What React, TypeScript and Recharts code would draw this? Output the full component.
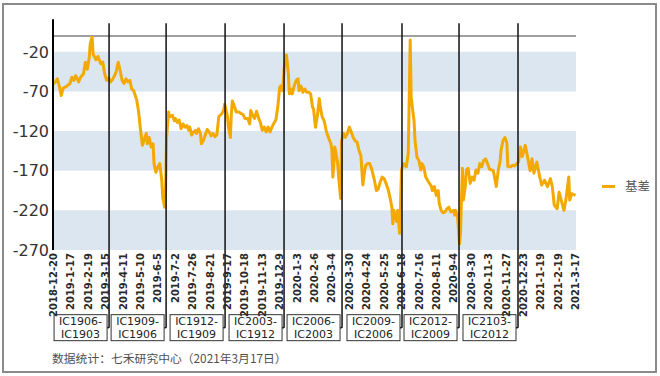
import React from "react";
import { LineChart, Line, XAxis, YAxis, ReferenceArea, ReferenceLine, Legend } from "recharts";

// trading-day index (0 = 2018-12-20) and basis value
const basisSeries: [number, number][] = [
  [0, -60], [2, -58], [4, -54], [6, -63], [8, -75], [10, -66], [14, -63], [17, -60], [19, -52], [21, -56],
  [23, -50], [26, -58], [28, -52], [31, -48], [33, -33], [35, -42], [37, -27], [38, -10], [40, -1], [41, -23],
  [44, -30], [46, -26], [49, -35], [51, -33], [53, -48], [55, -56], [57, -53], [59, -58], [61, -55], [64, -48],
  [65, -44], [67, -33], [69, -44], [71, -56], [73, -60], [75, -54], [77, -58], [79, -56], [81, -67], [83, -69],
  [84, -73], [86, -80], [88, -95], [90, -118], [92, -138], [94, -130], [96, -123], [97, -136], [99, -128], [101, -140],
  [103, -136], [104, -161], [106, -172], [108, -165], [110, -161], [112, -182], [113, -203], [115, -216], [116, -190], [117, -128],
  [119, -96], [120, -102], [123, -100], [125, -107], [126, -104], [128, -109], [130, -106], [132, -117], [134, -111], [136, -115],
  [138, -113], [140, -119], [141, -115], [143, -125], [145, -121], [147, -119], [148, -123], [150, -117], [152, -123], [153, -136],
  [155, -132], [157, -125], [159, -118], [161, -121], [163, -126], [165, -123], [167, -127], [169, -125], [171, -102], [174, -98],
  [176, -94], [177, -86], [178, -90], [180, -102], [181, -115], [183, -128], [184, -98], [185, -82], [187, -88], [189, -96],
  [192, -96], [194, -98], [196, -99], [198, -104], [201, -104], [203, -111], [204, -94], [206, -100], [208, -104], [210, -95],
  [212, -103], [214, -109], [216, -119], [218, -115], [220, -121], [222, -115], [224, -121], [226, -115], [228, -110], [230, -106],
  [232, -90], [234, -65], [235, -63], [237, -69], [239, -35], [241, -24], [243, -48], [244, -73], [246, -67], [247, -73],
  [249, -63], [251, -56], [253, -54], [254, -69], [256, -63], [258, -71], [260, -67], [262, -71], [264, -71], [266, -73],
  [268, -90], [269, -92], [271, -115], [273, -100], [275, -79], [276, -90], [278, -102], [280, -107], [282, -119], [283, -123],
  [285, -130], [287, -136], [288, -144], [289, -178], [291, -140], [292, -146], [294, -161], [295, -178], [297, -205], [298, -132],
  [300, -123], [302, -128], [304, -123], [306, -115], [308, -121], [310, -128], [312, -132], [314, -134], [316, -144], [318, -151],
  [320, -188], [322, -169], [323, -163], [325, -161], [327, -161], [329, -167], [332, -182], [334, -195], [336, -193], [338, -184],
  [340, -178], [342, -180], [344, -186], [346, -193], [348, -203], [350, -216], [351, -237], [352, -220], [354, -228], [355, -234],
  [356, -220], [358, -249], [359, -212], [360, -169], [362, -161], [365, -165], [367, -148], [368, -77], [369, -5], [370, -77],
  [372, -98], [373, -107], [374, -132], [376, -153], [378, -157], [380, -169], [381, -161], [383, -165], [385, -178], [387, -182],
  [389, -186], [391, -190], [392, -195], [394, -190], [396, -201], [398, -195], [399, -211], [401, -220], [403, -223], [405, -222],
  [407, -218], [409, -216], [411, -222], [414, -220], [415, -226], [416, -220], [418, -228], [419, -245], [420, -262], [421, -250],
  [423, -167], [424, -207], [426, -190], [427, -169], [429, -167], [431, -186], [433, -178], [435, -182], [437, -169], [439, -173],
  [441, -161], [443, -165], [445, -157], [447, -155], [449, -161], [451, -168], [455, -170], [458, -190], [460, -170], [462, -158],
  [463, -144], [465, -132], [467, -128], [469, -135], [470, -165], [473, -165], [475, -163], [477, -164], [480, -160], [481, -159],
  [483, -140], [485, -152], [488, -138], [490, -150], [493, -170], [495, -155], [497, -173], [500, -159], [503, -178], [505, -188],
  [508, -182], [511, -190], [514, -180], [516, -190], [518, -213], [521, -218], [523, -197], [526, -211], [528, -220], [530, -207],
  [533, -178], [534, -207], [536, -199], [540, -201],
];

const tickLabels = [
  "2018-12-20", "2019-1-17", "2019-2-19", "2019-3-15", "2019-4-11", "2019-5-10", "2019-6-5", "2019-7-2",
  "2019-7-26", "2019-8-21", "2019-9-17", "2019-10-18", "2019-11-13", "2019-12-9", "2020-1-3", "2020-2-6",
  "2020-3-4", "2020-3-30", "2020-4-24", "2020-5-25", "2020-6-18", "2020-7-16", "2020-8-11", "2020-9-4",
  "2020-9-30", "2020-11-3", "2020-11-27", "2020-12-23", "2021-1-19", "2021-2-19", "2021-3-17",
];
const tickStep = 18;
const tickDays = tickLabels.map((_, i) => i * tickStep);

const yTicks = [-270, -220, -170, -120, -70, -20];
const bands: [number, number][] = [[-270, -220], [-170, -120], [-70, -20]];

const rollDays = [57.5, 116.5, 177.5, 238.5, 298.5, 360.5, 419.5, 480.5];
const rollNew = ["IC1906-", "IC1909-", "IC1912-", "IC2003-", "IC2006-", "IC2009-", "IC2012-", "IC2103-"];
const rollOld = ["IC1903", "IC1906", "IC1909", "IC1912", "IC2003", "IC2006", "IC2009", "IC2012"];

const chartData = basisSeries.map(([d, v]) => ({ d, v }));

const FONT = "'DejaVu Sans', Arial, sans-serif";
const ORANGE = "#f4a900";

const DateTick = (props: any) => {
  const { x, y, payload } = props;
  const label = tickLabels[Math.round(payload.value / tickStep)] ?? "";
  return (
    <text
      x={x}
      y={y}
      transform={`rotate(-90 ${x} ${y})`}
      textAnchor="end"
      dy="0.36em"
      fontSize={10}
      fontWeight="bold"
      fontFamily={FONT}
      fill="#2a2a2a"
    >
      {label}
    </text>
  );
};

const makeRollLabel = (i: number) => (props: any) => {
  const vb = props.viewBox || {};
  const lx = vb.x ?? 0;
  const bottom = (vb.y ?? 0) + (vb.height ?? 0);
  const w = 53;
  const h = 26;
  const right = lx - 2;
  const cx = right - w / 2;
  return (
    <g>
      <line x1={lx} y1={bottom} x2={right} y2={bottom} stroke="#111" strokeWidth={1.5} />
      <rect x={right - w} y={bottom - 13} width={w} height={h} fill="#fff" stroke="#333" strokeWidth={1} />
      <text x={cx} y={bottom - 2.4} textAnchor="middle" fontSize={11} fontFamily={FONT} fill="#222">
        {rollNew[i]}
      </text>
      <text x={cx} y={bottom + 10.5} textAnchor="middle" fontSize={11} fontFamily={FONT} fill="#222">
        {rollOld[i]}
      </text>
    </g>
  );
};

const LegendContent = () => (
  <div style={{ display: "flex", alignItems: "center", height: 18 }}>
    <span style={{ display: "inline-block", width: 13, height: 3, background: ORANGE, marginRight: 10 }} />
    <span style={{ fontSize: 12.5, fontFamily: "'Noto Sans CJK SC', sans-serif", color: "#595959", lineHeight: "18px" }}>
      基差
    </span>
  </div>
);

export default function App() {
  return (
    <div style={{ position: "absolute", left: 0, top: 0, width: 660, height: 376, background: "#fff" }}>
      <div
        style={{
          position: "absolute",
          left: 2,
          top: 3,
          width: 655,
          height: 370,
          border: "2px solid #8a8a8a",
          boxSizing: "border-box",
        }}
      />
      <div style={{ position: "absolute", left: 0, top: 0 }}>
        <LineChart width={660} height={376} data={chartData} margin={{ top: 36, right: 84, bottom: 56, left: 8 }}>
          {bands.map(([a, b], i) => (
            <ReferenceArea key={"b" + i} y1={a} y2={b} fill="#dce6f1" fillOpacity={1} stroke="none" />
          ))}
          <XAxis
            dataKey="d"
            type="number"
            domain={[-0.5, 540.5]}
            ticks={tickDays}
            interval={0}
            tick={<DateTick />}
            axisLine={false}
            tickLine={false}
            tickSize={1}
            tickMargin={2}
            height={70}
            allowDataOverflow
          />
          <YAxis
            type="number"
            domain={[-270, 0]}
            ticks={yTicks}
            interval={0}
            axisLine={false}
            tickLine={false}
            tickSize={2}
            tickMargin={2}
            width={45}
            tick={{ fontSize: 16, fontFamily: FONT, fill: "#333" }}
            allowDataOverflow
          />
          <ReferenceLine y={0} stroke="#404040" strokeWidth={1} />
          <Line
            type="linear"
            dataKey="v"
            name="基差"
            stroke={ORANGE}
            strokeWidth={3}
            dot={false}
            activeDot={false}
            strokeLinejoin="round"
            isAnimationActive={false}
          />
          <ReferenceLine
            segment={[{ x: -0.5, y: 21 }, { x: -0.5, y: -270 }]}
            ifOverflow="visible"
            stroke="#000"
            strokeWidth={2}
          />
          {rollDays.map((d, i) => (
            <ReferenceLine
              key={"r" + i}
              segment={[{ x: d, y: 16 }, { x: d, y: -368 }]}
              ifOverflow="visible"
              stroke="#111"
              strokeWidth={1.5}
              label={makeRollLabel(i)}
            />
          ))}
          <Legend
            layout="horizontal"
            verticalAlign="middle"
            align="center"
            content={<LegendContent />}
            wrapperStyle={{ left: 602, top: 177, width: 56, height: 18 }}
          />
        </LineChart>
      </div>
      <div
        style={{
          position: "absolute",
          left: 52,
          top: 350,
          fontSize: 11.8,
          lineHeight: "16px",
          fontFamily: "'Noto Sans CJK SC', sans-serif",
          color: "#505050",
          whiteSpace: "nowrap",
        }}
      >
        数据统计：七禾研究中心（2021年3月17日）
      </div>
    </div>
  );
}
